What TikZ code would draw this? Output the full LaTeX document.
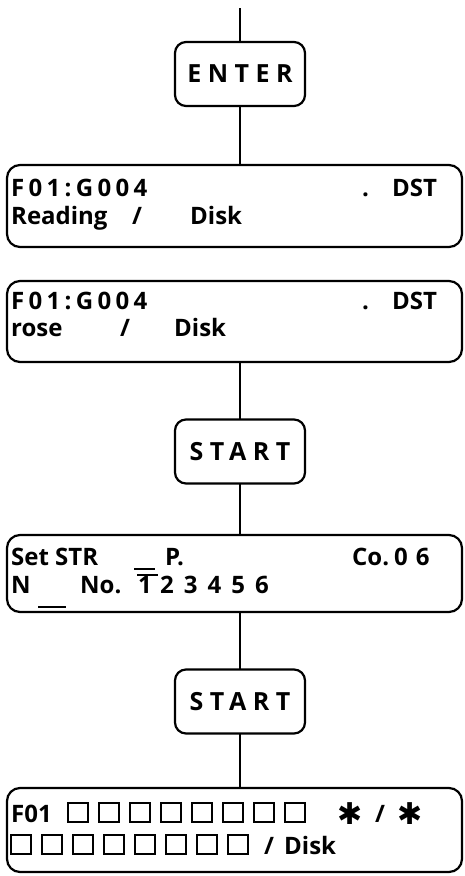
\documentclass[tikz,border=0pt]{standalone}
\usepackage{fontspec}
\setmainfont{Open Sans}
\newfontfamily\symbfont{DejaVu Sans}
\usetikzlibrary{positioning}

\newcommand{\lcdfont}{\fontsize{24}{28}\selectfont\bfseries}
\newcommand{\keyfont}{\fontsize{25}{28}\selectfont\bfseries\addfontfeatures{LetterSpace=26}}
\newcommand{\wide}{\addfontfeatures{LetterSpace=18}}

\begin{document}
\begin{tikzpicture}[
    x=1pt, y=-1pt,
    % keys and display panels
    keybox/.style={draw, line width=2.2pt, rounded corners=11pt, minimum width=130pt,
        minimum height=64pt, inner sep=0pt, outer sep=0pt, font=\keyfont},
    lcdbox/.style={draw, line width=2.2pt, rounded corners=13pt, minimum width=455pt,
        inner sep=0pt, outer sep=0pt},
    lcdtext/.style={anchor=base west, inner sep=0pt, font=\lcdfont},
    link/.style={line width=2.2pt},
    cell/.style={line width=1.3pt},
]
\useasboundingbox (0,0) rectangle (465,876);

% ============================================================
% KEYS AND DISPLAYS (top to bottom)
% ============================================================
\coordinate (top) at (240,8);
\node[keybox] (enter) at (240,74) {ENTER};

\node[lcdbox, minimum height=82pt] (lcdA) at (234.5,206) {};
\node[lcdbox, minimum height=81pt] (lcdB) at (234.5,321.5) {};

\node[keybox] (startA) at (240,451.5) {START};

\node[lcdbox, minimum height=77pt] (lcdC) at (234.5,573.5) {};

\node[keybox] (startB) at (240,701.5) {START};

\node[lcdbox, minimum height=84pt] (lcdD) at (234.5,830) {};

% ============================================================
% CONNECTORS
% ============================================================
\draw[link] (top) -- (enter.north);
\draw[link] (enter.south) -- (enter.south |- lcdA.north);
\draw[link] (startA.north |- lcdB.south) -- (startA.north);
\draw[link] (startA.south) -- (startA.south |- lcdC.north);
\draw[link] (startB.north |- lcdC.south) -- (startB.north);
\draw[link] (startB.south) -- (startB.south |- lcdD.north);

% ============================================================
% DISPLAY TEXTS
% ============================================================
% --- display A ---
\node[lcdtext, font=\lcdfont\wide] (fgA) at (11,196) {F01:G004};
\node[lcdtext] (dotA) at (362,196) {.};
\node[lcdtext] (dstA) at (392,196) {DST};
\node[lcdtext] (readA) at (11,224) {Reading};
\node[lcdtext] (slashA) at (132,224) {/};
\node[lcdtext] (diskA) at (190,224) {Disk};

% --- display B ---
\node[lcdtext, font=\lcdfont\wide] (fgB) at (11,309) {F01:G004};
\node[lcdtext] (dotB) at (362,309) {.};
\node[lcdtext] (dstB) at (392,309) {DST};
\node[lcdtext] (roseB) at (11,336) {rose};
\node[lcdtext] (slashB) at (120,336) {/};
\node[lcdtext] (diskB) at (174,336) {Disk};

% --- display C ---
\node[lcdtext] (setC) at (11,565) {Set STR};
\draw[cell] (134,569) -- (155,569);
\node[lcdtext] (pC) at (165,565) {P.};
\node[lcdtext] (coC) at (352,565) {Co.\hspace{5pt}0\hspace{8pt}6};
\node[lcdtext] (nC) at (11,593) {N};
\draw[cell] (38,607) -- (66,607);
\node[lcdtext] (noC) at (80,593) {No.};
\node[lcdtext] (oneC) at (138,593) {1};
\draw[cell] (137,575) -- (158,575);
\node[lcdtext] (digC) at (160,593) {2\hspace{10pt}3\hspace{10pt}4\hspace{10pt}5\hspace{10pt}6};

% --- display D ---
\node[lcdtext] (fD) at (11,822) {F01};
\foreach \i in {0,...,7} {
    \draw[cell] (68+31*\i,803) rectangle ++(20,19);
    \draw[cell] (11+31*\i,835) rectangle ++(20,19);
}
\node[lcdtext, font=\fontsize{30}{30}\selectfont\symbfont] (starL) at (337,824) {✱};
\node[lcdtext] (slashD) at (375,822) {/};
\node[lcdtext, font=\fontsize{30}{30}\selectfont\symbfont] (starR) at (397,824) {✱};
\node[lcdtext] (slashE) at (264,854) {/};
\node[lcdtext] (diskD) at (284,854) {Disk};

\end{tikzpicture}
\end{document}
